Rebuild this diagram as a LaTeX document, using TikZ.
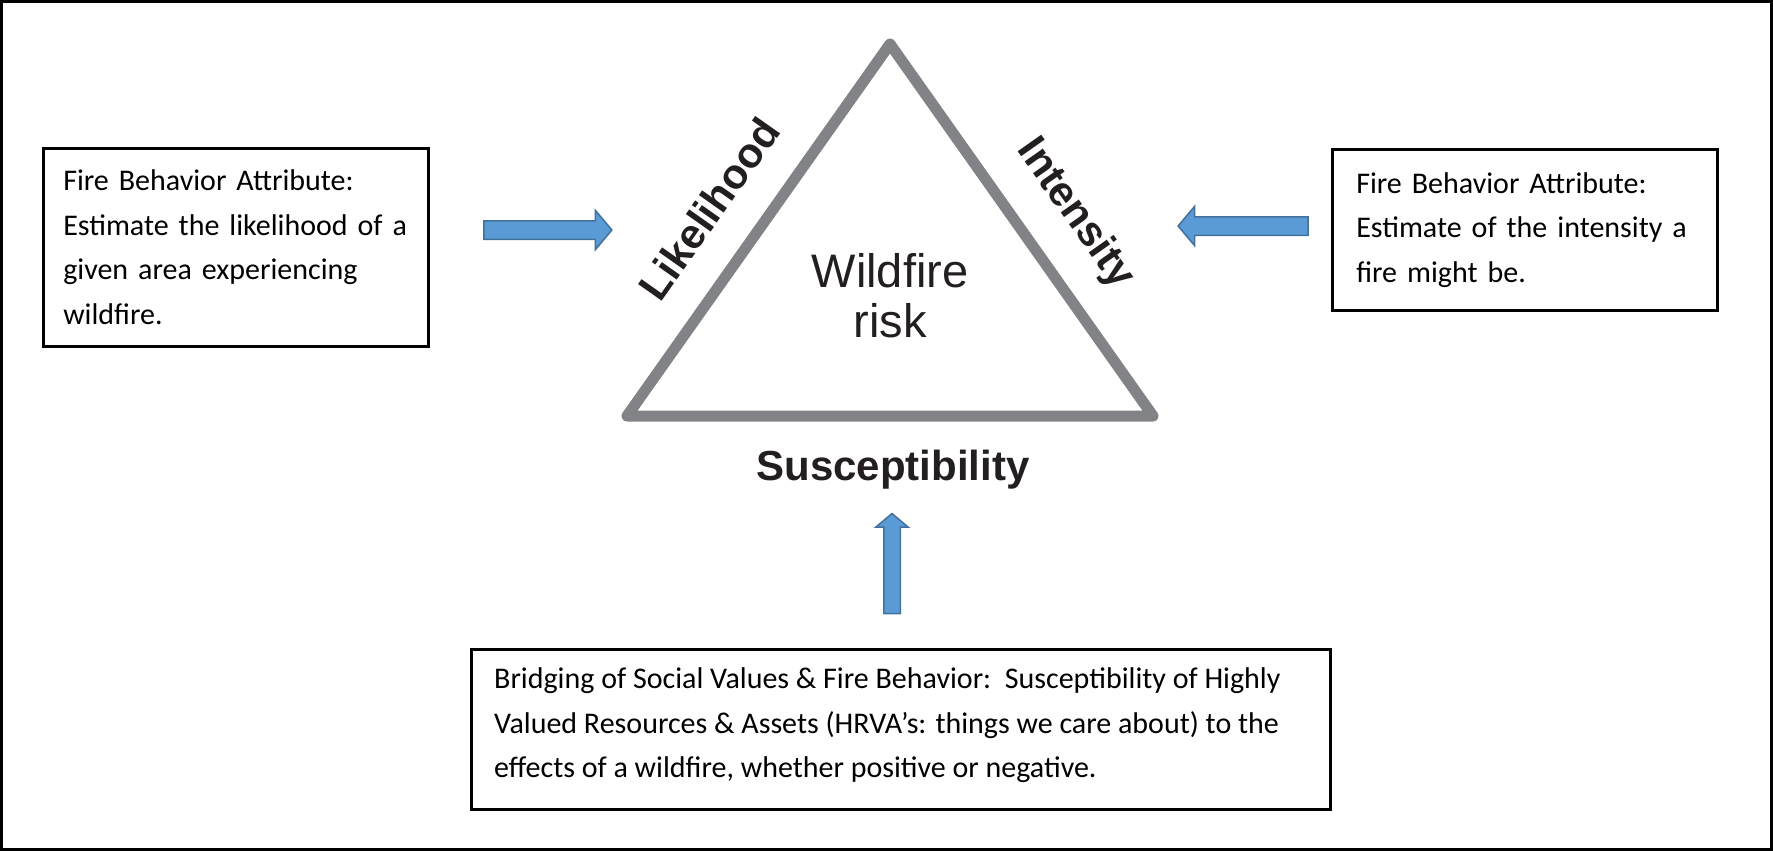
\documentclass[tikz,border=0pt]{standalone}
\usepackage{fontspec}
\setmainfont{Carlito}
\newfontfamily\arialf{Liberation Sans}
\usetikzlibrary{shapes.arrows}
\definecolor{trigray}{HTML}{828386}
\definecolor{arrowfill}{HTML}{5B9BD5}
\definecolor{arrowline}{HTML}{41719C}
\definecolor{tritext}{HTML}{231F20}
\begin{document}
\begin{tikzpicture}[x=1pt,y=-1pt,
  infobox/.style={draw=black, line width=2.5pt, anchor=north west, inner xsep=20pt,
    inner ysep=0pt, align=left, font=\fontsize{30}{44.5}\selectfont},
  boxtext/.style={anchor=west, inner sep=0pt, align=left, font=\fontsize{30}{44.5}\selectfont},
  blockarrow/.style={single arrow, draw=arrowline, fill=arrowfill, line width=1.5pt,
    inner sep=8.5pt, single arrow head extend=10.5pt, single arrow tip angle=100,
    minimum width=38pt},
  sidelabel/.style={text=tritext, font=\arialf\bfseries\fontsize{42}{50}\selectfont, inner sep=0pt},
  centerlabel/.style={text=tritext, align=center, font=\arialf\fontsize{47}{50}\selectfont, inner sep=0pt},
]
\useasboundingbox (0,0) rectangle (1773,851);
\draw[line width=2.5pt] (1.5,1.5) rectangle (1771.5,849.5);

% triangle
\coordinate (apex) at (890,44);
\coordinate (bl) at (627,416);
\coordinate (br) at (1153,416);
\draw[trigray, line width=11pt, line join=round] (apex) -- (br) -- (bl) -- cycle;

\node[sidelabel, rotate=54.8] (lik) at (709,209) {Likelihood};
\node[sidelabel, rotate=-54.8] (int) at (1075,214) {Intensity};
\node[centerlabel] (wr) at (890,296) {Wildfire\\risk};
\node[sidelabel] (sus) at (893,470) {Susceptibility};

% boxes
\node[infobox, text width=345pt, minimum height=198pt] (lbox) at (42,147)
  {Fire Behavior Attribute:\\Estimate the likelihood of a\\given area experiencing\\wildfire.};
\node[infobox, inner xsep=24pt, text width=337pt, minimum height=161pt] (rbox) at (1331,148)
  {Fire Behavior Attribute:\\Estimate of the intensity a\\fire might be.};
\node[infobox, inner xsep=0pt, minimum width=859pt, minimum height=160pt] (bbox) at (470,648) {};
\node[boxtext] (btext) at ([xshift=24pt,yshift=4pt]bbox.west)
  {Bridging of Social Values \& Fire Behavior:\ \ Susceptibility of Highly\\Valued Resources \& Assets (HRVA’s: things we care about) to the\\effects of a wildfire, whether positive or negative.};

% arrows
\node[blockarrow, minimum height=128pt] (arrL) at (544,230) {};
\node[blockarrow, minimum height=130pt, rotate=180] (arrR) at (1247,226) {};
\node[blockarrow, minimum height=100pt, minimum width=31pt, inner sep=7.5pt,
  single arrow head extend=8pt, rotate=90] (arrB) at (892,567) {};
\end{tikzpicture}
\end{document}
